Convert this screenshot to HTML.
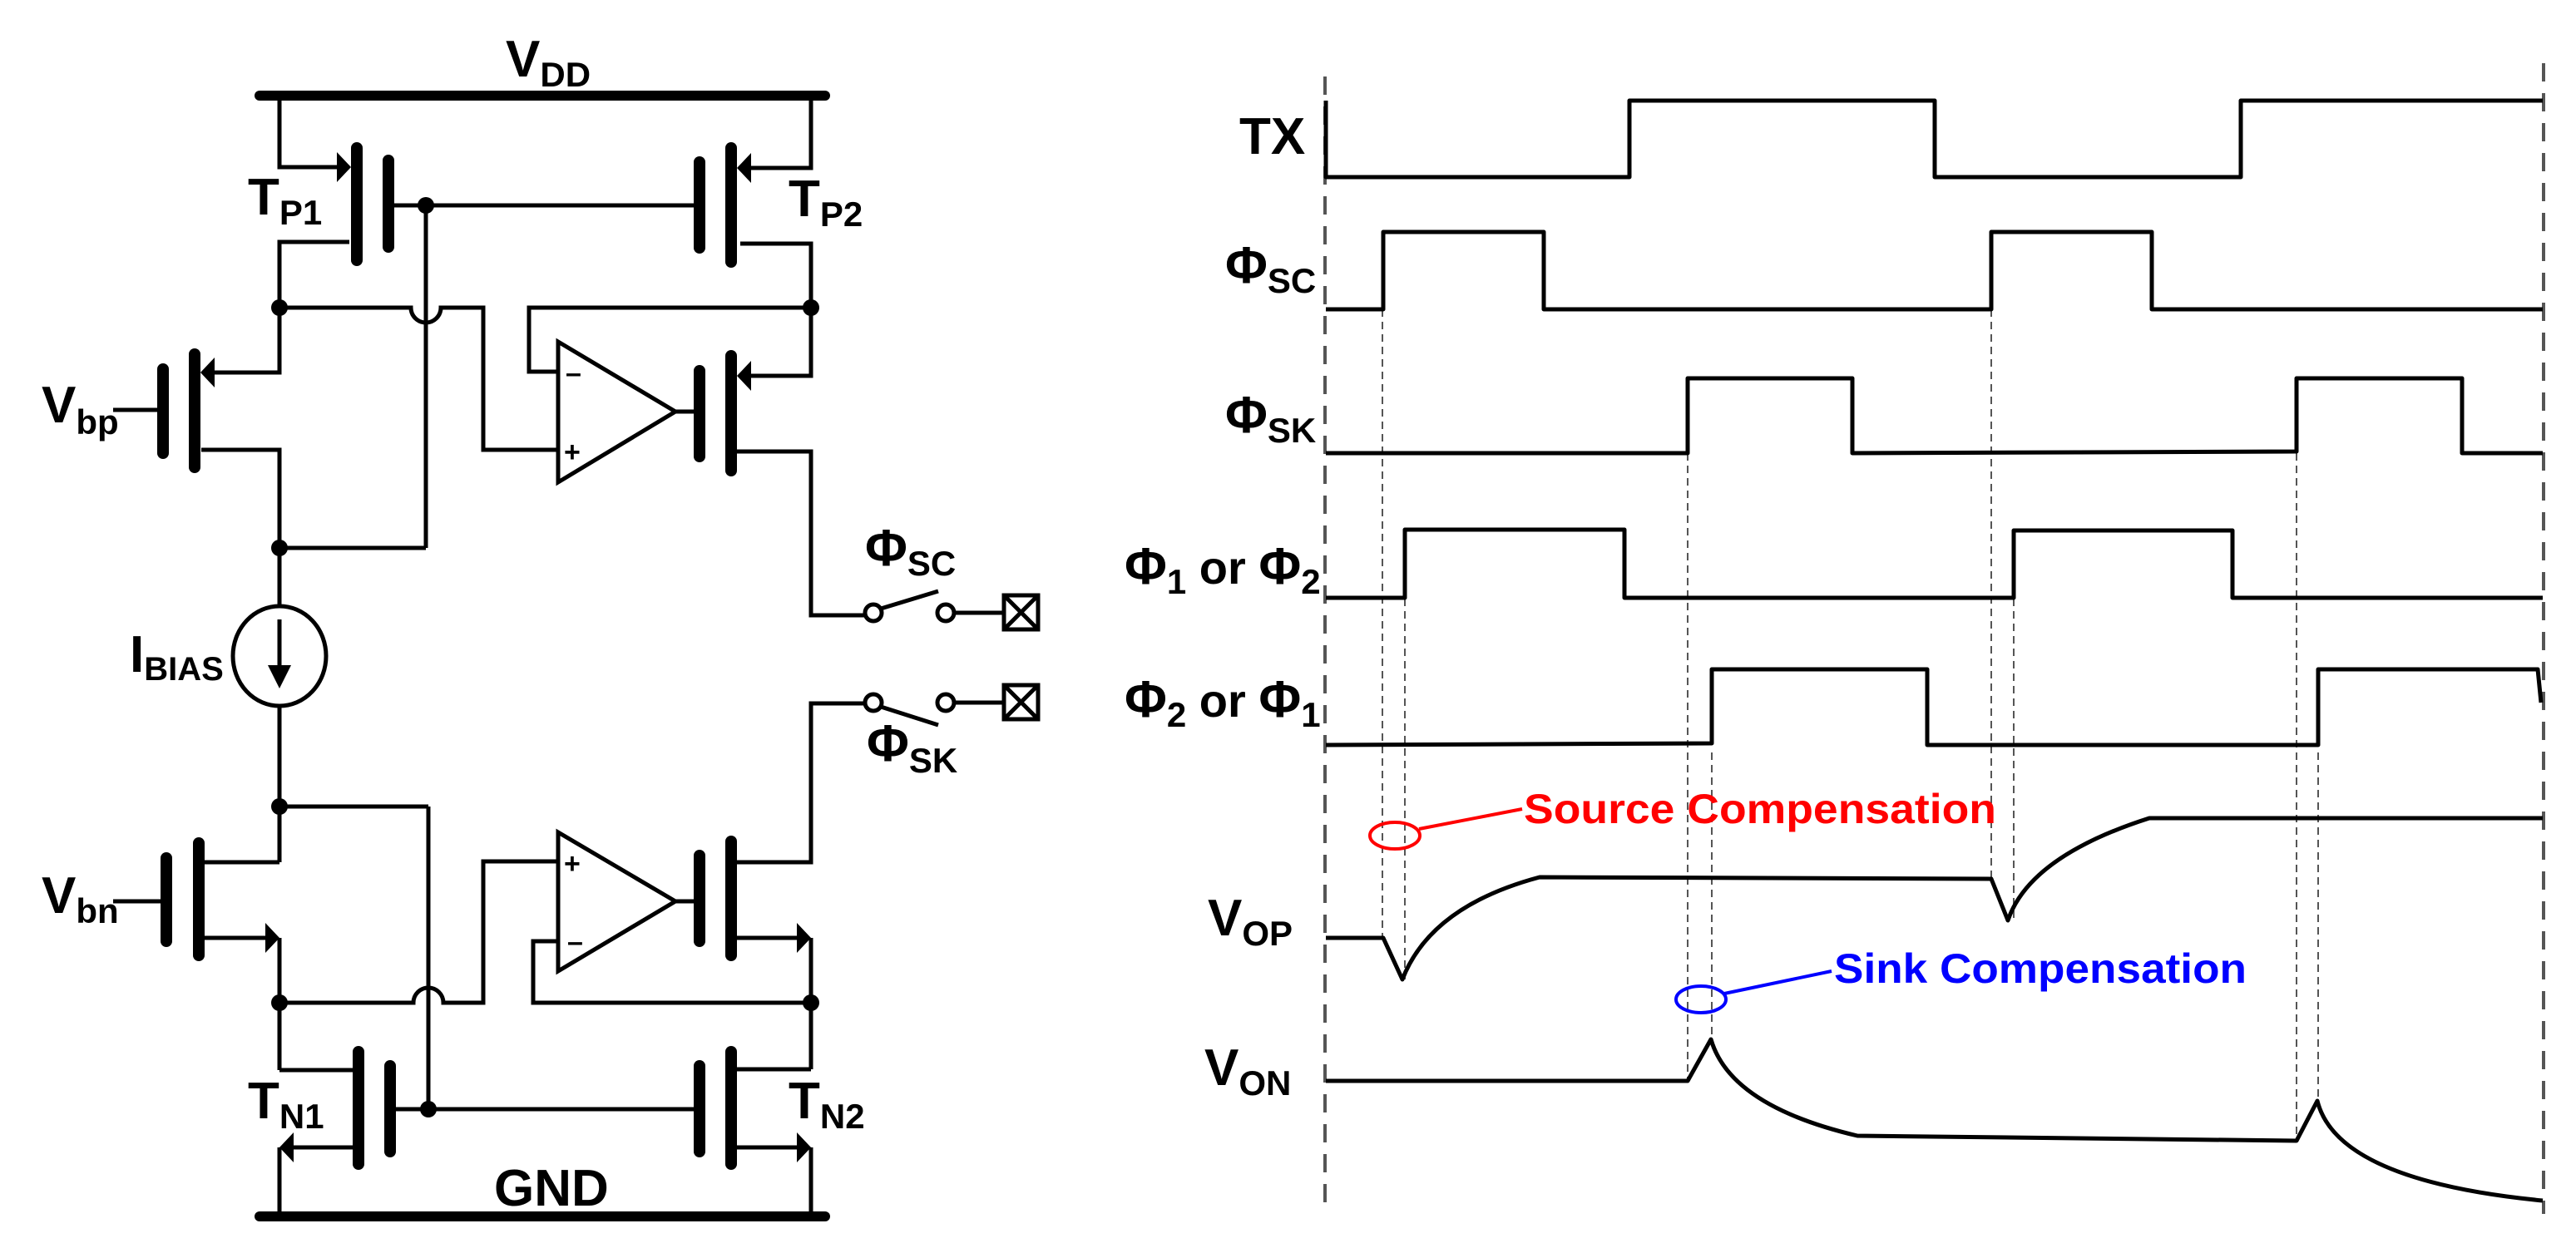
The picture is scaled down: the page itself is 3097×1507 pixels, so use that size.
<!DOCTYPE html>
<html><head><meta charset="utf-8"><style>
html,body{margin:0;padding:0;background:#fff;}
svg{display:block;}
text{font-family:"Liberation Sans",sans-serif;font-weight:bold;fill:#000;}
</style></head><body>
<svg width="3097" height="1507" viewBox="0 0 3097 1507" xmlns="http://www.w3.org/2000/svg">
<defs>
<marker id="ar" markerWidth="6" markerHeight="6" refX="5" refY="3" orient="auto" markerUnits="userSpaceOnUse"></marker>
</defs>
<g fill="none" stroke="#000" stroke-width="5" stroke-linejoin="miter">
<!-- rails -->
<line x1="312" y1="115" x2="992" y2="115" stroke-width="12" stroke-linecap="round"/>
<line x1="312" y1="1463" x2="992" y2="1463" stroke-width="12" stroke-linecap="round"/>
<!-- left rail top -->
<polyline points="336,115 336,201 420,201"/>
<polyline points="975,115 975,202 890,202"/>
<!-- TP1/TP2 drains -->
<polyline points="420,291 336,291 336,448 248,448"/>
<polyline points="890,293 975,293 975,452 890,452"/>
<!-- gate line TP -->
<line x1="474" y1="247" x2="834" y2="247"/>
<!-- upper node line with hump -->
<path d="M336,370 H494 A18,18 0 0 0 530,370 H581 V541 H671"/>
<polyline points="975,370 636,370 636,447 671,447"/>
<!-- vertical 512 -->
<line x1="512" y1="247" x2="512" y2="659"/>
<line x1="336" y1="659" x2="512" y2="659"/>
<!-- Vbp drain -->
<polyline points="242,541 336,541 336,730"/>
<!-- right mid pmos drain -->
<polyline points="886,543 975,543 975,740 1040,740"/>
<!-- opamp out -->
<line x1="812" y1="495" x2="834" y2="495"/>
<line x1="812" y1="1084" x2="834" y2="1084"/>
<!-- bias -->
<line x1="336" y1="848" x2="336" y2="1037"/>
<line x1="336" y1="970" x2="515" y2="970"/>
<line x1="515" y1="970" x2="515" y2="1334"/>
<polyline points="246,1037 336,1037"/>
<polyline points="246,1128 330,1128"/>
<line x1="336" y1="1128" x2="336" y2="1287"/>
<!-- lower node line with hump up -->
<path d="M336,1206 H497 A18,18 0 0 1 533,1206 H581 V1036 H671"/>
<polyline points="975,1206 641,1206 641,1132 671,1132"/>
<polyline points="886,1037 975,1037 975,846 1040,846"/>
<polyline points="886,1128 970,1128"/>
<line x1="975" y1="1128" x2="975" y2="1286"/>
<polyline points="975,1286 886,1286"/>
<polyline points="336,1287 424,1287"/>
<line x1="474" y1="1334" x2="834" y2="1334"/>
<polyline points="424,1380 342,1380"/>
<line x1="336" y1="1380" x2="336" y2="1463"/>
<polyline points="886,1380 970,1380"/>
<line x1="975" y1="1380" x2="975" y2="1463"/>
<!-- Vbp / Vbn gate leads -->
<line x1="136" y1="493" x2="196" y2="493"/>
<line x1="136" y1="1084" x2="200" y2="1084"/>
<!-- opamps -->
<polygon points="671,411 671,580 812,495"/>
<polygon points="671,1001 671,1168 812,1084"/>
<!-- current source -->
<ellipse cx="336" cy="789" rx="56" ry="60"/>
<line x1="336" y1="745" x2="336" y2="815"/>
<!-- switches -->
<circle cx="1050" cy="737" r="10"/>
<circle cx="1137" cy="737" r="10"/>
<line x1="1059" y1="732" x2="1128" y2="711"/>
<line x1="1147" y1="737" x2="1207" y2="737"/>
<rect x="1207" y="716" width="41" height="41"/>
<line x1="1207" y1="716" x2="1248" y2="757"/><line x1="1248" y1="716" x2="1207" y2="757"/>
<circle cx="1050" cy="845" r="10"/>
<circle cx="1137" cy="845" r="10"/>
<line x1="1059" y1="850" x2="1128" y2="872"/>
<line x1="1147" y1="845" x2="1207" y2="845"/>
<rect x="1207" y="824" width="41" height="41"/>
<line x1="1207" y1="824" x2="1248" y2="865"/><line x1="1248" y1="824" x2="1207" y2="865"/>
</g>
<!-- transistor bars -->
<g stroke="#000" stroke-width="14" stroke-linecap="round">
<line x1="429" y1="178" x2="429" y2="313"/><line x1="467" y1="193" x2="467" y2="297"/>
<line x1="879" y1="178" x2="879" y2="315"/><line x1="841" y1="195" x2="841" y2="298"/>
<line x1="234" y1="426" x2="234" y2="562"/><line x1="196" y1="444" x2="196" y2="545"/>
<line x1="879" y1="428" x2="879" y2="566"/><line x1="841" y1="446" x2="841" y2="549"/>
<line x1="239" y1="1014" x2="239" y2="1149"/><line x1="200" y1="1032" x2="200" y2="1132"/>
<line x1="879" y1="1012" x2="879" y2="1149"/><line x1="841" y1="1029" x2="841" y2="1132"/>
<line x1="431" y1="1265" x2="431" y2="1400"/><line x1="469" y1="1282" x2="469" y2="1385"/>
<line x1="879" y1="1265" x2="879" y2="1400"/><line x1="841" y1="1282" x2="841" y2="1385"/>
</g>
<!-- arrowheads & dots -->
<g fill="#000">
<polygon points="422,201 405,183 405,219"/>
<polygon points="886,202 903,184 903,220"/>
<polygon points="241,448 258,430 258,466"/>
<polygon points="886,452 903,434 903,470"/>
<polygon points="336,1128 319,1110 319,1146"/>
<polygon points="975,1128 958,1110 958,1146"/>
<polygon points="336,1380 353,1362 353,1398"/>
<polygon points="975,1380 958,1362 958,1398"/>
<polygon points="336,828 322,800 350,800"/>
<circle cx="512" cy="247" r="10"/><circle cx="336" cy="370" r="10"/><circle cx="975" cy="370" r="10"/>
<circle cx="336" cy="659" r="10"/><circle cx="336" cy="970" r="10"/>
<circle cx="336" cy="1206" r="10"/><circle cx="975" cy="1206" r="10"/><circle cx="515" cy="1334" r="10"/>
</g>
<!-- opamp signs -->
<g font-size="34">
<text x="680" y="460">–</text><text x="678" y="555">+</text>
<text x="678" y="1050">+</text><text x="682" y="1144">–</text>
</g>
<!-- circuit labels -->
<g font-size="62">
<text x="608" y="92">V<tspan font-size="42" dy="12">DD</tspan></text>
<text x="298" y="258">T<tspan font-size="42" dy="12">P1</tspan></text>
<text x="948" y="260">T<tspan font-size="42" dy="12">P2</tspan></text>
<text x="50" y="508">V<tspan font-size="42" dy="14">bp</tspan></text>
<text x="156" y="808">I<tspan font-size="40" dy="10">BIAS</tspan></text>
<text x="50" y="1098">V<tspan font-size="42" dy="12">bn</tspan></text>
<text x="298" y="1345">T<tspan font-size="42" dy="12">N1</tspan></text>
<text x="948" y="1345">T<tspan font-size="42" dy="12">N2</tspan></text>
<text x="594" y="1450">GND</text>
<text x="1040" y="680">Φ<tspan font-size="42" dy="12">SC</tspan></text>
<text x="1042" y="915">Φ<tspan font-size="42" dy="14">SK</tspan></text>
</g>
<!-- timing dashed lines -->
<g stroke="#555" fill="none">
<line x1="1593" y1="92" x2="1593" y2="1460" stroke-width="4" stroke-dasharray="22,14"/>
<line x1="3058" y1="76" x2="3058" y2="1460" stroke-width="4" stroke-dasharray="22,14"/>
<g stroke-width="2" stroke-dasharray="9,6">
<line x1="1662" y1="372" x2="1662" y2="1130"/>
<line x1="1689" y1="720" x2="1689" y2="1178"/>
<line x1="2029" y1="545" x2="2029" y2="1300"/>
<line x1="2058" y1="905" x2="2058" y2="1250"/>
<line x1="2394" y1="372" x2="2394" y2="1056"/>
<line x1="2421" y1="720" x2="2421" y2="1107"/>
<line x1="2761" y1="545" x2="2761" y2="1372"/>
<line x1="2787" y1="905" x2="2787" y2="1324"/>
</g>
</g>
<!-- waveforms -->
<g fill="none" stroke="#000" stroke-width="5" stroke-linejoin="round">
<polyline points="1594,121 1594,213 1959,213 1959,121 2326,121 2326,213 2694,213 2694,121 3057,121"/>
<polyline points="1594,372 1663,372 1663,279 1856,279 1856,372 2394,372 2394,279 2587,279 2587,372 3057,372"/>
<polyline points="1594,545 2029,545 2029,455 2227,455 2227,545 2761,543 2761,455 2960,455 2960,545 3057,545"/>
<polyline points="1594,719 1689,719 1689,637 1953,637 1953,719 2421,719 2421,638 2684,638 2684,719 3057,719"/>
<polyline points="1594,896 2058,894 2058,805 2317,805 2317,896 2787,896 2787,805 3051,805 3055,845"/>
<path d="M1594,1128 H1663 L1686,1178 Q1720,1090 1851,1055 L2394,1057 L2414,1107 Q2440,1030 2584,984 H3057"/>
<path d="M1594,1300 H2029 L2057,1250 Q2080,1330 2233,1366 L2761,1372 L2786,1324 Q2810,1420 3057,1444"/>
</g>
<!-- annotations -->
<ellipse cx="1677" cy="1005" rx="30" ry="16" fill="none" stroke="#f00" stroke-width="4"/>
<line x1="1706" y1="997" x2="1830" y2="973" stroke="#f00" stroke-width="4"/>
<ellipse cx="2045" cy="1202" rx="30" ry="16" fill="none" stroke="#00f" stroke-width="4"/>
<line x1="2073" y1="1195" x2="2202" y2="1168" stroke="#00f" stroke-width="4"/>
<text x="1832" y="990" font-size="50" style="fill:#f00" textLength="568" lengthAdjust="spacingAndGlyphs">Source Compensation</text>
<text x="2205" y="1182" font-size="50" style="fill:#00f" textLength="496" lengthAdjust="spacingAndGlyphs">Sink Compensation</text>
<!-- timing labels -->
<g font-size="62">
<text x="1490" y="185">TX</text>
<text x="1473" y="340">Φ<tspan font-size="42" dy="12">SC</tspan></text>
<text x="1473" y="520">Φ<tspan font-size="42" dy="12">SK</tspan></text>
<text x="1352" y="702">Φ<tspan font-size="42" dy="12">1</tspan><tspan dy="-12" font-size="56"> or </tspan>Φ<tspan font-size="42" dy="12">2</tspan></text>
<text x="1352" y="862">Φ<tspan font-size="42" dy="12">2</tspan><tspan dy="-12" font-size="56"> or </tspan>Φ<tspan font-size="42" dy="12">1</tspan></text>
<text x="1452" y="1125">V<tspan font-size="42" dy="12">OP</tspan></text>
<text x="1448" y="1305">V<tspan font-size="42" dy="12">ON</tspan></text>
</g>
</svg>
</body></html>
